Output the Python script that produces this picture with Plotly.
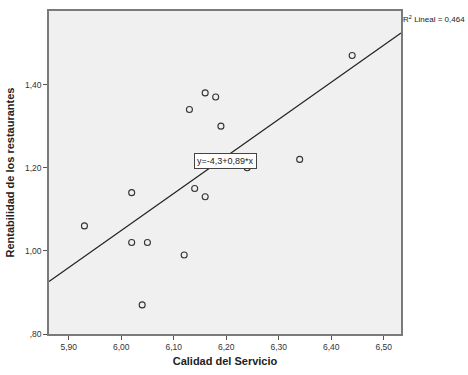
import numpy as np
import plotly.graph_objects as go

calidad = [6.13, 6.16, 6.18, 6.19, 6.14, 5.93, 6.02, 6.02, 6.05, 6.04, 6.12, 6.16, 6.44, 6.34, 6.24]
rentabilidad = [1.34, 1.38, 1.37, 1.30, 1.15, 1.06, 1.14, 1.02, 1.02, 0.87, 0.99, 1.13, 1.47, 1.22, 1.20]

x_ticks = [5.90, 6.00, 6.10, 6.20, 6.30, 6.40, 6.50]
x_ticktext = ["5,90", "6,00", "6,10", "6,20", "6,30", "6,40", "6,50"]
y_ticks = [0.80, 1.00, 1.20, 1.40]
y_ticktext = [",80", "1,00", "1,20", "1,40"]

x_range = [5.8625, 6.533]
y_range = [0.80, 1.577]

slope, intercept = np.polyfit(calidad, rentabilidad, 1)
line_x = np.array(x_range)
line_y = intercept + slope * line_x

font = "Liberation Sans, Arial, sans-serif"

fig = go.Figure()
fig.add_trace(go.Scatter(x=line_x, y=line_y, mode="lines",
                         line=dict(color="#222222", width=1.2),
                         hoverinfo="skip", showlegend=False))
fig.add_trace(go.Scatter(x=calidad, y=rentabilidad, mode="markers",
                         marker=dict(symbol="circle-open", size=6,
                                     color="#333333", line=dict(width=1.1)),
                         showlegend=False))

fig.add_annotation(x=6.198, y=1.217, xref="x", yref="y",
                   text="y=-4,3+0,89*x", showarrow=False,
                   font=dict(family=font, size=9, color="#222222"),
                   bgcolor="white", bordercolor="#444444", borderwidth=1,
                   borderpad=2)
fig.add_annotation(x=1.0, y=1.0, xref="paper", yref="paper",
                   xanchor="left", yanchor="top", yshift=-1, xshift=0,
                   text="R<sup>2</sup> Lineal = 0,464", showarrow=False,
                   font=dict(family=font, size=8, color="#222222"))

fig.update_layout(
    width=468, height=375,
    margin=dict(l=43, r=67, t=9, b=37),
    paper_bgcolor="white", plot_bgcolor="#f0f0f0",
    font=dict(family=font, size=8.5, color="#333333"),
    xaxis=dict(range=x_range, tickvals=x_ticks, ticktext=x_ticktext,
               showgrid=False, zeroline=False, showline=True,
               linecolor="#7a7a7a", linewidth=1.5, mirror=True,
               ticks="outside", ticklen=4, tickcolor="#555555",
               title=dict(text="<b>Calidad del Servicio</b>",
                          font=dict(family=font, size=11, color="#222222"),
                          standoff=6)),
    yaxis=dict(range=y_range, tickvals=y_ticks, ticktext=y_ticktext,
               showgrid=False, zeroline=False, showline=True,
               linecolor="#7a7a7a", linewidth=1.5, mirror=True,
               ticks="outside", ticklen=4, tickcolor="#555555",
               title=dict(text="<b>Rentabilidad de los restaurantes</b>",
                          font=dict(family=font, size=11, color="#222222"),
                          standoff=8)),
)

fig.write_html("out.html", config={"displayModeBar": False},
               post_script="document.body.style.margin='0';document.body.style.overflow='hidden';")
